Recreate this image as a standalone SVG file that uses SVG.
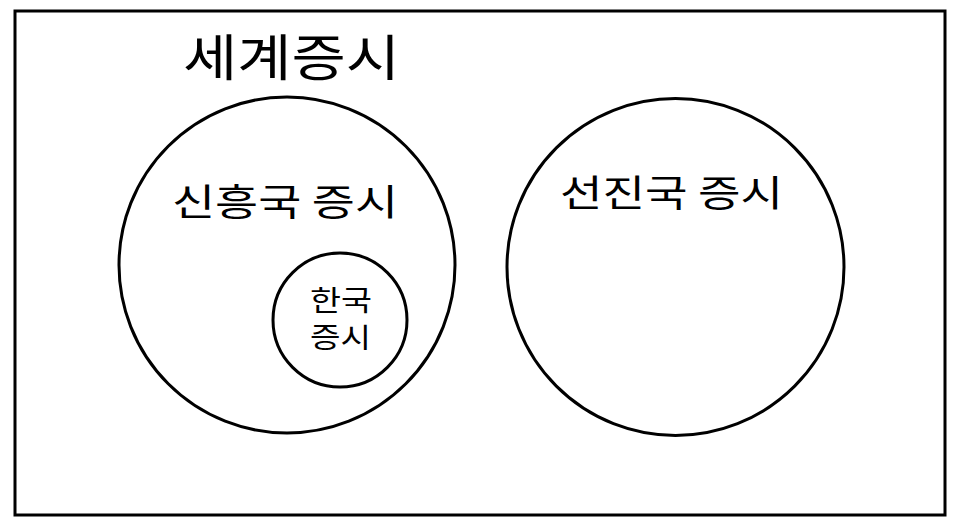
<svg xmlns="http://www.w3.org/2000/svg" width="966" height="524" viewBox="0 0 966 524">
<style>
.s{fill:none;stroke:#000;stroke-width:3}
text{font-family:"Noto Sans CJK KR","Noto Sans",sans-serif;fill:#000}
</style>
<rect width="966" height="524" fill="#fff"/>
<g id="world">
<rect x="15" y="11" width="930" height="504" class="s" stroke-width="3.5"/>
<text x="183" y="76" font-size="50" textLength="217" lengthAdjust="spacingAndGlyphs">세계증시</text>
</g>
<g id="emerging">
<circle cx="287" cy="265" r="168" class="s"/>
<text x="172" y="216" font-size="37" textLength="226" lengthAdjust="spacingAndGlyphs">신흥국 증시</text>
</g>
<g id="korea">
<circle cx="340" cy="320" r="67" class="s"/>
<text x="310" y="311" font-size="28" textLength="62" lengthAdjust="spacingAndGlyphs">한국</text>
<text x="310" y="348" font-size="28" textLength="61" lengthAdjust="spacingAndGlyphs">증시</text>
</g>
<g id="developed">
<circle cx="675.5" cy="267" r="168.5" class="s"/>
<text x="560" y="207" font-size="37" textLength="223" lengthAdjust="spacingAndGlyphs">선진국 증시</text>
</g>
<g id="connectors"></g>
</svg>
